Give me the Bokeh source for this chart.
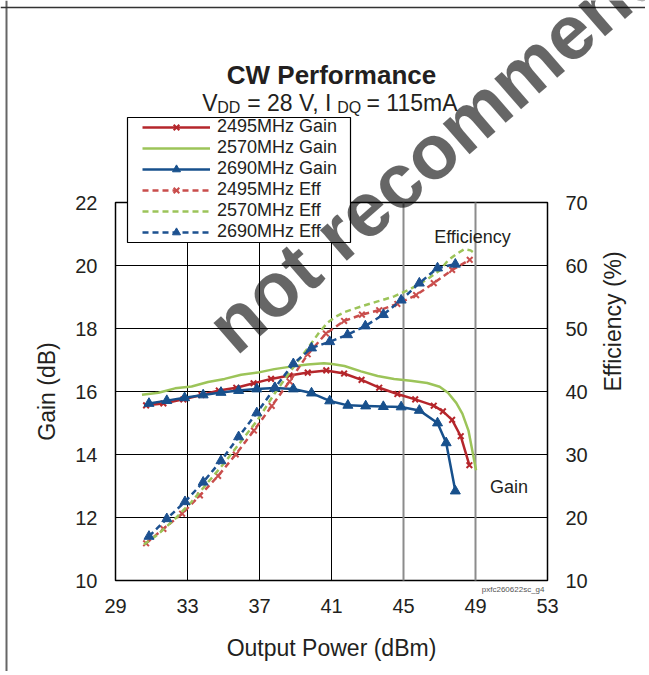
import math
from bokeh.plotting import figure
from bokeh.models import (Range1d, LinearAxis, FixedTicker, Legend, LegendItem,
                          Label, Span, BoxAnnotation)
from bokeh.embed import file_html
from bokeh.resources import INLINE

FONT = "Liberation Sans"
TXT = "#231f20"

# ---------------- data ----------------
x_ticks = [29, 33, 37, 41, 45, 49, 53]
gain_ticks = [10, 12, 14, 16, 18, 20, 22]
eff_ticks = [10, 20, 30, 40, 50, 60, 70]
x_grid_dark = [33, 37, 41]
x_grid_gray = [45, 49]

pout_2495_gain = [30.70, 31.66, 32.77, 33.78, 34.74, 35.71, 36.67, 37.64, 38.67, 39.68,
                  40.71, 41.70, 42.67, 43.65, 44.66, 45.65, 46.68, 47.19, 47.70, 48.18, 48.66]
gain_2495 = [15.56, 15.62, 15.75, 15.89, 16.03, 16.12, 16.26, 16.40, 16.51, 16.60,
             16.67, 16.57, 16.37, 16.12, 15.92, 15.75, 15.55, 15.37, 15.10, 14.58, 13.66]

pout_2495_eff = [30.70, 31.66, 32.70, 33.69, 34.70, 35.68, 36.69, 37.68, 38.67, 39.68,
                 40.69, 41.70, 42.69, 43.65, 44.66, 45.70, 46.68, 47.70, 48.68]
eff_2495 = [15.9, 18.2, 20.6, 23.5, 26.6, 30.0, 33.8, 37.7, 41.6, 45.9,
            49.2, 51.2, 52.2, 52.9, 53.9, 55.3, 57.2, 59.3, 60.9]

pout_2570_gain = [30.47, 31.39, 32.31, 33.23, 34.14, 35.06, 35.98, 36.90, 37.82, 38.74,
                  39.66, 40.58, 41.03, 41.72, 42.64, 43.56, 44.48, 45.40, 46.32, 47.01,
                  47.47, 47.93, 48.27, 48.61, 48.84, 49.03]
gain_2570 = [15.90, 15.96, 16.10, 16.16, 16.30, 16.40, 16.53, 16.60, 16.71, 16.79,
             16.86, 16.90, 16.87, 16.81, 16.64, 16.49, 16.40, 16.34, 16.27, 16.15,
             15.96, 15.64, 15.30, 14.76, 14.07, 13.50]

pout_2570_eff = [30.58, 31.39, 32.31, 33.23, 34.14, 35.06, 35.98, 36.90, 37.82, 38.74,
                 39.66, 40.35, 40.81, 41.26, 41.72, 42.64, 43.56, 44.48, 45.40, 46.32,
                 47.01, 47.47, 47.93, 48.38, 48.73, 48.96]
eff_2570 = [15.7, 17.4, 19.8, 22.5, 25.6, 28.7, 32.1, 35.5, 39.6, 43.3,
            46.8, 49.5, 51.0, 51.9, 52.6, 53.5, 54.3, 55.1, 56.3, 57.8,
            59.2, 60.8, 61.8, 62.6, 62.4, 61.9]

pout_2690_gain = [30.86, 31.85, 32.84, 33.87, 34.86, 35.84, 36.85, 37.84, 38.88, 39.89,
                  40.90, 41.91, 42.90, 43.88, 44.87, 45.88, 46.89, 47.37, 47.88]
gain_2690 = [15.62, 15.71, 15.80, 15.89, 15.97, 16.03, 16.08, 16.11, 16.08, 15.95,
             15.70, 15.56, 15.54, 15.52, 15.51, 15.40, 15.00, 14.37, 12.84]

pout_2690_eff = [30.86, 31.85, 32.86, 33.87, 34.86, 35.84, 36.85, 37.86, 38.88, 39.89,
                 40.90, 41.89, 42.88, 43.88, 44.87, 45.88, 46.89, 47.88]
eff_2690 = [17.0, 19.8, 22.5, 25.6, 29.0, 32.8, 36.6, 40.6, 44.4, 46.9,
            47.9, 49.0, 50.4, 52.2, 54.5, 57.2, 59.6, 60.2]

series_names = ["2495MHz Gain", "2570MHz Gain", "2690MHz Gain",
                "2495MHz Eff", "2570MHz Eff", "2690MHz Eff"]

RED = "#b5262b"
RED_L = "#c94d4c"
GREEN = "#9cc459"
BLUE = "#17508c"
BLUE_D = "#1d5190"

# ---------------- layout (pixels of the canvas) ----------------
W, H = 645, 671
PX_L, PX_R, PX_T, PX_B = 115, 547, 202, 580
X0, X1 = x_ticks[0], x_ticks[-1]
G0, G1 = gain_ticks[0], gain_ticks[-1]
E0, E1 = eff_ticks[0], eff_ticks[-1]
kx = (X1 - X0) / (PX_R - PX_L)
kg = (G1 - G0) / (PX_B - PX_T)
ke = (E1 - E0) / (PX_B - PX_T)

x_rng = Range1d(X0 - PX_L * kx, X1 + (W - PX_R) * kx)
g_rng = Range1d(G0 - (H - PX_B) * kg, G1 + PX_T * kg)
e_rng = Range1d(E0 - (H - PX_B) * ke, E1 + PX_T * ke)

def dx(px):
    return X0 + (px - PX_L) * kx

def dy(py):
    return G1 - (py - PX_T) * kg

p = figure(width=W, height=H, x_range=x_rng, y_range=g_rng,
           output_backend="svg", toolbar_location=None,
           x_axis_location=None, y_axis_location=None,
           min_border=0, min_border_left=0, min_border_right=0,
           min_border_top=0, min_border_bottom=0)
p.extra_y_ranges = {"eff": e_rng}
p.grid.visible = False
p.background_fill_color = "white"
p.border_fill_color = "white"
p.outline_line_color = None

# page frame lines (left and top)
p.add_layout(Span(location=dx(6), dimension="height", line_color="#666666", line_width=2))
p.add_layout(Span(location=dy(7), dimension="width", line_color="#333333", line_width=1.5))

# grid lines
p.segment(x0=x_grid_dark, y0=[G0] * len(x_grid_dark), x1=x_grid_dark, y1=[G1] * len(x_grid_dark),
          line_color="black", line_width=1)
p.segment(x0=[X0] * 5, y0=gain_ticks[1:-1], x1=[X1] * 5, y1=gain_ticks[1:-1],
          line_color="black", line_width=1)
p.segment(x0=x_grid_gray, y0=[G0] * len(x_grid_gray), x1=x_grid_gray, y1=[G1] * len(x_grid_gray),
          line_color="#8c8c8c", line_width=2)
p.add_layout(BoxAnnotation(left=X0, right=X1, bottom=G0, top=G1, fill_alpha=0,
                           line_color="black", line_alpha=1, line_width=1.5,
                           level="underlay"))

def style_axis(ax):
    ax.axis_line_color = None
    ax.major_tick_line_color = None
    ax.minor_tick_line_color = None
    ax.major_tick_out = 0
    ax.major_tick_in = 0
    ax.minor_tick_out = 0
    ax.minor_tick_in = 0
    ax.major_label_standoff = 18
    ax.major_label_text_font = FONT
    ax.major_label_text_font_size = "20px"
    ax.major_label_text_color = TXT
    ax.axis_label_text_font = FONT
    ax.axis_label_text_font_size = "23px"
    ax.axis_label_text_font_style = "normal"
    ax.axis_label_text_color = TXT

x_axis = LinearAxis(fixed_location=G0, bounds=(X0, X1), ticker=FixedTicker(ticks=x_ticks),
                    axis_label="Output Power (dBm)")
style_axis(x_axis)
x_axis.axis_label_standoff = 19
p.add_layout(x_axis, "below")

g_axis = LinearAxis(fixed_location=X0, bounds=(G0, G1), ticker=FixedTicker(ticks=gain_ticks),
                    axis_label="Gain (dB)")
style_axis(g_axis)
g_axis.axis_label_standoff = 12
p.add_layout(g_axis, "left")

e_axis = LinearAxis(y_range_name="eff", fixed_location=X1, bounds=(E0, E1),
                    ticker=FixedTicker(ticks=eff_ticks), axis_label="Efficiency (%)")
style_axis(e_axis)
e_axis.axis_label_standoff = 22
e_axis.axis_label_orientation = math.pi / 2
p.add_layout(e_axis, "right")

# ---------------- series ----------------
LW = 2.5
r_g1 = p.line(pout_2495_gain, gain_2495, line_color=RED, line_width=LW)
m_g1 = p.scatter(pout_2495_gain, gain_2495, marker="x", size=8, line_width=2, line_color=RED)
r_g2 = p.line(pout_2570_gain, gain_2570, line_color=GREEN, line_width=LW)
r_g3 = p.line(pout_2690_gain, gain_2690, line_color=BLUE, line_width=LW)
m_g3 = p.scatter(pout_2690_gain, gain_2690, marker="triangle", size=10,
                 line_color=BLUE, fill_color=BLUE)

r_e1 = p.line(pout_2495_eff, eff_2495, line_color=RED_L, line_width=LW,
              line_dash="6 4", y_range_name="eff")
m_e1 = p.scatter(pout_2495_eff, eff_2495, marker="x", size=8, line_width=2,
                 line_color=RED_L, y_range_name="eff")
r_e2 = p.line(pout_2570_eff, eff_2570, line_color=GREEN, line_width=LW,
              line_dash="6 4", y_range_name="eff")
r_e3 = p.line(pout_2690_eff, eff_2690, line_color=BLUE_D, line_width=LW,
              line_dash="6 4", y_range_name="eff")
m_e3 = p.scatter(pout_2690_eff, eff_2690, marker="triangle", size=10,
                 line_color=BLUE_D, fill_color=BLUE_D, y_range_name="eff")

# legend frame (white box) and legend entries
p.add_layout(BoxAnnotation(left=dx(127), right=dx(350), top=dy(117), bottom=dy(242),
                           fill_color="white", fill_alpha=1, line_color="black",
                           line_alpha=1, line_width=1.2))
items = [
    LegendItem(label=series_names[0], renderers=[r_g1, m_g1]),
    LegendItem(label=series_names[1], renderers=[r_g2]),
    LegendItem(label=series_names[2], renderers=[r_g3, m_g3]),
    LegendItem(label=series_names[3], renderers=[r_e1, m_e1]),
    LegendItem(label=series_names[4], renderers=[r_e2]),
    LegendItem(label=series_names[5], renderers=[r_e3, m_e3]),
]
legend = Legend(items=items, location=(142, H - 242), padding=0, spacing=0, margin=0,
                glyph_width=68, glyph_height=20, label_height=20, label_standoff=7,
                label_text_font=FONT, label_text_font_size="18px",
                label_text_color=TXT, border_line_color=None,
                background_fill_alpha=0)
p.add_layout(legend)

# ---------------- texts ----------------
def lab(x, y, text, size, align="left", style="normal", color=TXT, **kw):
    l = Label(x=x, y=y, text=text, text_font=FONT, text_font_size=size,
              text_align=align, text_baseline="alphabetic",
              text_font_style=style, text_color=color, **kw)
    p.add_layout(l)
    return l

lab(dx(331), dy(74), "CW Performance", "26px", align="center", style="bold")
lab(dx(201.7), dy(102), "V", "23px")
lab(dx(216.7), dy(106.5), "DD", "16px")
lab(dx(246.7), dy(102), "= 28 V, I", "23px")
lab(dx(336.7), dy(106.5), "DQ", "16px")
lab(dx(366), dy(102), "= 115mA", "23px")

lab(dx(472), dy(236.5), "Efficiency", "18px", align="center")
lab(dx(508.6), dy(486), "Gain", "18px", align="center")
lab(dx(544), dy(589), "pxfc260622sc_g4", "8px", align="right", color="#555555")

wm = Label(x=dx(218), y=dy(336), text="not recommended", text_font=FONT,
           text_font_size="77px", text_font_style="bold", text_color="black",
           text_alpha=0.6, angle=41, angle_units="deg", text_align="left",
           text_baseline="alphabetic", level="overlay")
p.add_layout(wm)

open("out.html", "w").write(file_html(p, INLINE))
